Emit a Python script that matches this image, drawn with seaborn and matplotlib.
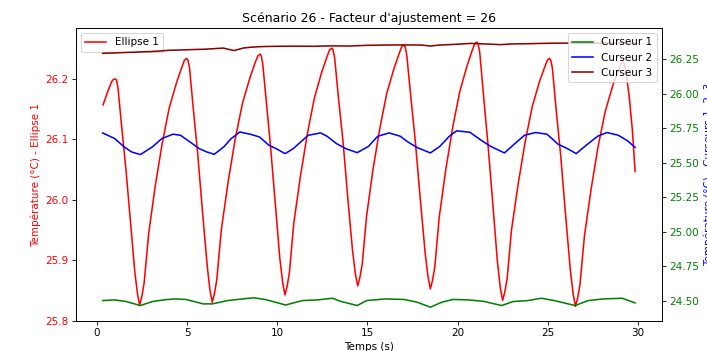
import matplotlib
matplotlib.use("Agg")
from matplotlib import pyplot as plt
import seaborn as sns

# Ellipse 1 (left axis)
red_t = [0.33, 0.60, 0.80, 0.90, 1.01, 1.08, 1.16, 1.35, 1.59, 1.85, 2.09, 2.24, 2.36,
         2.48, 2.61, 2.86, 3.22, 3.61, 4.00, 4.42, 4.71, 4.85, 4.97,
         5.04, 5.13, 5.33, 5.58, 5.85, 6.11, 6.26, 6.39,
         6.51, 6.64, 6.89, 7.26, 7.66, 8.06, 8.48, 8.77, 8.92, 9.04,
         9.11, 9.19, 9.39, 9.63, 9.90, 10.14, 10.30, 10.42,
         10.54, 10.67, 10.91, 11.28, 11.67, 12.06, 12.47, 12.76, 12.90, 13.02,
         13.09, 13.18, 13.38, 13.64, 13.91, 14.17, 14.33, 14.46,
         14.58, 14.71, 14.95, 15.30, 15.69, 16.07, 16.48, 16.76, 16.90, 17.02,
         17.09, 17.18, 17.39, 17.65, 17.93, 18.20, 18.36, 18.49,
         18.61, 18.74, 18.98, 19.34, 19.73, 20.12, 20.53, 20.81, 20.95, 21.07,
         21.14, 21.23, 21.43, 21.68, 21.96, 22.21, 22.37, 22.50,
         22.62, 22.75, 22.99, 23.36, 23.75, 24.14, 24.55, 24.84, 24.98, 25.10,
         25.17, 25.26, 25.46, 25.72, 25.99, 26.25, 26.41, 26.54,
         26.66, 26.79, 27.04, 27.41, 27.80, 28.20, 28.62, 28.91, 29.05, 29.17,
         29.24, 29.33, 29.52, 29.70, 29.85]
red_v = [26.157, 26.180, 26.195, 26.199, 26.200, 26.198, 26.185, 26.125, 26.054, 25.964, 25.882, 25.845, 25.826,
         25.840, 25.863, 25.944, 26.022, 26.093, 26.152, 26.195, 26.220, 26.231, 26.234,
         26.231, 26.218, 26.153, 26.077, 25.980, 25.891, 25.851, 25.831,
         25.845, 25.868, 25.950, 26.028, 26.100, 26.159, 26.202, 26.227, 26.238, 26.241,
         26.238, 26.225, 26.161, 26.086, 25.990, 25.903, 25.863, 25.843,
         25.857, 25.880, 25.961, 26.039, 26.110, 26.169, 26.212, 26.237, 26.248, 26.251,
         26.248, 26.235, 26.172, 26.098, 26.003, 25.917, 25.878, 25.858,
         25.872, 25.894, 25.973, 26.049, 26.119, 26.176, 26.218, 26.242, 26.253, 26.256,
         26.253, 26.240, 26.175, 26.099, 26.002, 25.913, 25.873, 25.853,
         25.867, 25.890, 25.971, 26.049, 26.120, 26.179, 26.222, 26.247, 26.258, 26.261,
         26.258, 26.244, 26.176, 26.094, 25.992, 25.898, 25.855, 25.834,
         25.848, 25.870, 25.950, 26.026, 26.096, 26.154, 26.196, 26.220, 26.231, 26.234,
         26.231, 26.218, 26.152, 26.074, 25.976, 25.886, 25.845, 25.824,
         25.838, 25.860, 25.941, 26.018, 26.089, 26.147, 26.190, 26.214, 26.225, 26.228,
         26.225, 26.214, 26.172, 26.115, 26.047]

# Curseur 1 (right axis)
green_t = [0.31, 0.98, 1.61, 2.40, 3.07, 3.69, 4.32, 4.94, 5.88, 6.40, 7.23, 8.07,
           8.69, 9.32, 10.46, 11.40, 12.24, 13.07, 13.49, 14.43, 14.95, 15.99,
           17.03, 17.76, 18.49, 19.12, 19.75, 20.58, 21.41, 22.45, 23.08, 23.91,
           24.64, 25.37, 26.52, 27.25, 28.08, 29.13, 29.85]
green_v = [24.500, 24.505, 24.493, 24.464, 24.493, 24.505, 24.512, 24.508, 24.476,
           24.476, 24.500, 24.512, 24.520, 24.508, 24.468, 24.500, 24.505, 24.517,
           24.495, 24.464, 24.500, 24.512, 24.508, 24.488, 24.452, 24.488, 24.508,
           24.505, 24.495, 24.464, 24.493, 24.500, 24.517, 24.500, 24.464, 24.500,
           24.512, 24.517, 24.483]

# Curseur 2 (right axis)
blue_t = [0.31, 0.98, 1.50, 1.92, 2.40, 3.07, 3.59, 4.21, 4.63, 5.15, 5.67, 6.09,
          6.50, 7.03, 7.44, 7.92, 8.49, 9.01, 9.53, 9.94, 10.43, 10.88, 11.30,
          11.71, 12.40, 12.76, 13.28, 13.80, 14.43, 15.06, 15.57, 16.20, 16.82,
          17.24, 17.76, 18.49, 19.02, 19.54, 19.95, 20.68, 21.31, 21.83, 22.60,
          23.08, 23.71, 24.33, 24.96, 25.58, 26.10, 26.58, 27.14, 27.77, 28.29,
          28.92, 29.44, 29.85]
blue_v = [25.715, 25.674, 25.614, 25.577, 25.558, 25.614, 25.674, 25.706, 25.698,
          25.650, 25.601, 25.577, 25.560, 25.614, 25.674, 25.722, 25.706, 25.686,
          25.626, 25.601, 25.565, 25.601, 25.650, 25.698, 25.715, 25.691, 25.638,
          25.601, 25.572, 25.618, 25.691, 25.715, 25.691, 25.650, 25.609, 25.570,
          25.618, 25.691, 25.730, 25.720, 25.662, 25.618, 25.570, 25.626, 25.698,
          25.718, 25.706, 25.633, 25.601, 25.565, 25.626, 25.691, 25.718, 25.698,
          25.657, 25.610]

# Curseur 3 (right axis)
dred_t = [0.31, 1.0, 1.5, 2.0, 2.5, 3.0, 3.5, 4.0, 4.5, 5.0, 5.5, 6.0, 6.5, 7.0,
          7.6, 8.1, 8.5, 9.0, 9.5, 10.0, 11.0, 12.0, 13.0, 14.0, 15.0, 16.0,
          17.0, 18.0, 18.5, 19.0, 20.0, 20.7, 21.5, 22.4, 23.0, 24.0, 25.0,
          26.0, 27.0, 28.0, 29.0, 29.85]
dred_v = [26.292, 26.295, 26.298, 26.300, 26.303, 26.305, 26.309, 26.314, 26.316,
          26.318, 26.320, 26.322, 26.326, 26.330, 26.312, 26.330, 26.336, 26.340,
          26.342, 26.343, 26.344, 26.343, 26.346, 26.345, 26.350, 26.352, 26.353,
          26.352, 26.345, 26.352, 26.358, 26.364, 26.360, 26.355, 26.360, 26.362,
          26.365, 26.366, 26.364, 26.366, 26.367, 26.366]

fig, ax1 = plt.subplots(figsize=(9.427, 4.68), dpi=75)
fig.subplots_adjust(left=0.1075, right=0.936, top=0.920, bottom=0.0855)

sns.lineplot(x=red_t, y=red_v, ax=ax1, color="red", label="Ellipse 1",
             estimator=None, sort=False)
ax1.set_xlabel("Temps (s)")
ax1.set_ylabel("Température (°C) - Ellipse 1", color="red")
ax1.tick_params(axis="y", labelcolor="red")
ax1.set_ylim(25.8, 26.284)
ax1.set_yticks([25.8, 25.9, 26.0, 26.1, 26.2])
ax1.legend(loc="upper left")

ax2 = ax1.twinx()
sns.lineplot(x=green_t, y=green_v, ax=ax2, color="green", label="Curseur 1",
             estimator=None, sort=False)
sns.lineplot(x=blue_t, y=blue_v, ax=ax2, color="blue", label="Curseur 2",
             estimator=None, sort=False)
sns.lineplot(x=dred_t, y=dred_v, ax=ax2, color="darkred", label="Curseur 3",
             estimator=None, sort=False)
ax2.set_ylabel("Température (°C) - Curseurs 1, 2, 3", color="blue")
ax2.tick_params(axis="y", labelcolor="green")
ax2.set_ylim(24.352, 26.475)
ax2.set_yticks([24.5, 24.75, 25.0, 25.25, 25.5, 25.75, 26.0, 26.25])
ax2.legend(loc="upper right")

ax1.set_xlim(-1.17, 31.33)
ax1.set_xticks([0, 5, 10, 15, 20, 25, 30])
ax1.set_title("Scénario 26 - Facteur d'ajustement = 26")

fig.savefig("out.png", dpi=75)
